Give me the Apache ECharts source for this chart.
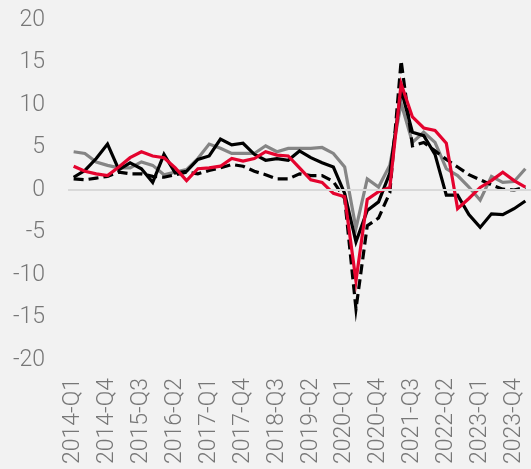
<!DOCTYPE html>
<html lang="en">
<head>
    <meta charset="UTF-8">
    <title>Quarterly growth</title>
    <script src="https://cdn.jsdelivr.net/npm/echarts@6/dist/echarts.min.js"></script>
    <style>
        html, body { margin: 0; padding: 0; background: #f2f2f2; }
    </style>
</head>
<body>
    <div id="main" style="width: 531px;height: 469px;"></div>

    <script type="text/javascript">
        var quarters = [
            '2014-Q1','2014-Q2','2014-Q3','2014-Q4','2015-Q1','2015-Q2','2015-Q3','2015-Q4',
            '2016-Q1','2016-Q2','2016-Q3','2016-Q4','2017-Q1','2017-Q2','2017-Q3','2017-Q4',
            '2018-Q1','2018-Q2','2018-Q3','2018-Q4','2019-Q1','2019-Q2','2019-Q3','2019-Q4',
            '2020-Q1','2020-Q2','2020-Q3','2020-Q4','2021-Q1','2021-Q2','2021-Q3','2021-Q4',
            '2022-Q1','2022-Q2','2022-Q3','2022-Q4','2023-Q1','2023-Q2','2023-Q3','2023-Q4',
            '2024-Q1'
        ];
        var yTicks = [-20, -15, -10, -5, 0, 5, 10, 15, 20];

        // grijze lijn
        var greySeries = [4.5, 4.3, 3.3, 2.9, 2.6, 2.6, 3.3, 2.9, 1.8, 2.1, 2.4, 3.7, 5.4, 4.9, 4.3, 4.3,
            4.3, 5.2, 4.5, 4.9, 4.9, 4.9, 5.0, 4.3, 2.7, -4.5, 1.3, 0.35, 2.9, 10.2, 5.6, 6.8,
            5.6, 2.5, 1.7, 0.35, -1.2, 1.6, 0.9, 1.0, 2.5];
        // zwarte stippellijn
        var dashedSeries = [1.3, 1.2, 1.4, 1.6, 2.1, 1.9, 1.9, 1.6, 1.5, 1.8, 2.1, 1.9, 2.3, 2.6, 3.0, 2.8,
            2.2, 1.8, 1.3, 1.3, 1.9, 1.7, 1.7, 1.0, -1.0, -14.0, -4.2, -3.3, -0.3, 15.2, 5.2, 5.6,
            4.6, 3.6, 2.7, 1.8, 1.2, 0.6, 0.1, 0.0, 0.3];
        // zwarte lijn
        var blackSeries = [1.5, 2.3, 3.7, 5.4, 2.4, 3.2, 2.5, 0.9, 4.2, 2.0, 2.2, 3.6, 4.0, 6.0, 5.3, 5.5,
            4.2, 3.5, 3.7, 3.5, 4.6, 3.8, 3.2, 2.7, -0.4, -6.1, -2.4, -1.4, 2.0, 11.8, 6.8, 6.4,
            4.2, -0.6, -0.6, -2.9, -4.4, -2.8, -2.9, -2.2, -1.3];
        // rode lijn
        var redSeries = [2.8, 2.2, 1.9, 1.7, 2.7, 3.8, 4.5, 4.0, 3.8, 2.6, 1.1, 2.5, 2.6, 2.8, 3.7, 3.4,
            3.7, 4.5, 4.1, 4.0, 2.6, 1.2, 0.9, -0.4, -0.8, -10.7, -1.1, -0.2, 0.3, 12.5, 8.6, 7.3,
            7.0, 5.5, -2.2, -1.0, 0.3, 1.1, 2.1, 1.1, 0.35];

        var labelFont = {
            fontFamily: 'Roboto',
            fontWeight: 300,
            fontSize: 23,
            color: '#777777'
        };

        function lineSeries(name, data, color, type) {
            return {
                name: name,
                type: 'line',
                data: data,
                symbol: 'none',
                smooth: false,
                silent: true,
                lineStyle: { color: color, width: 3.2, type: type || 'solid', join: 'miter' }
            };
        }

        var myChart = echarts.init(document.getElementById('main'));
        var series = [
            lineSeries('grijs', greySeries, '#858585'),
            lineSeries('stippel', dashedSeries, '#000000', [10, 5]),
            lineSeries('zwart', blackSeries, '#000000'),
            lineSeries('rood', redSeries, '#e4032e')
        ];
        // nullijn
        series[0].markLine = {
            silent: true,
            symbol: 'none',
            label: { show: false },
            lineStyle: { color: '#d9d9d9', width: 2, type: 'solid' },
            data: [{ yAxis: 0 }]
        };
        series[0].z = 1;

        var option = {
            backgroundColor: '#f2f2f2',
            animation: false,
            grid: { left: 68, right: -2, top: 20, bottom: 109 },
            xAxis: {
                type: 'category',
                data: quarters,
                boundaryGap: true,
                axisLine: { show: false },
                axisTick: { show: false },
                splitLine: { show: false },
                axisLabel: Object.assign({ interval: 2, rotate: 90, margin: 18, padding: [4, 0, 0, 0] }, labelFont)
            },
            yAxis: {
                type: 'value',
                min: yTicks[0],
                max: yTicks[yTicks.length - 1],
                interval: 5,
                axisLine: { show: false },
                axisTick: { show: false },
                splitLine: { show: false },
                axisLabel: Object.assign({ margin: 23 }, labelFont)
            },
            series: series
        };
        myChart.setOption(option);
    </script>
</body>
</html>
